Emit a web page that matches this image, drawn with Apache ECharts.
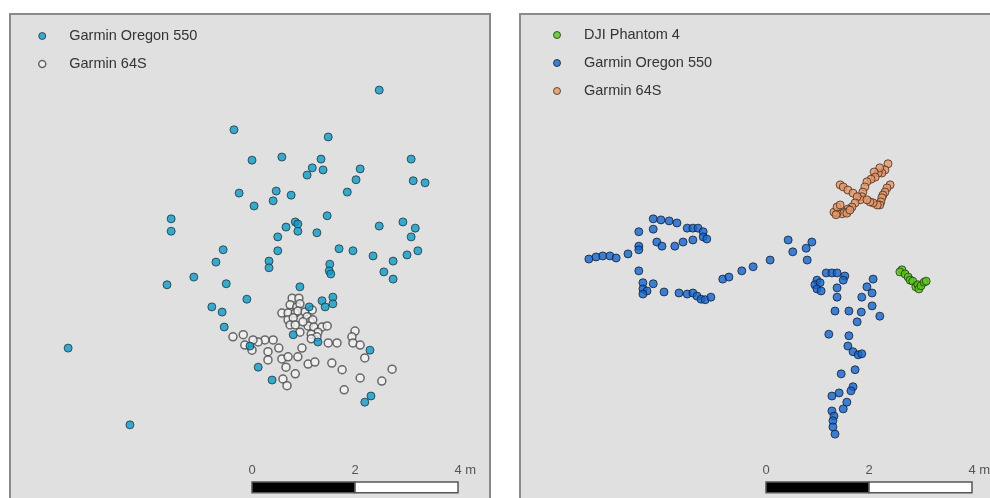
<!DOCTYPE html>
<html>
<head>
<meta charset="utf-8">
<script src="https://cdn.jsdelivr.net/npm/echarts@6/dist/echarts.min.js"></script>
<style>
html,body{margin:0;padding:0;background:#fff;overflow:hidden;width:990px;height:498px;}
#chart{width:1010px;height:512px;}
</style>
</head>
<body>
<div id="chart"></div>
<script>
// ---- Data (metres, local map coordinates) ----
const leftSeriesNames = ['Garmin Oregon 550', 'Garmin 64S'];
const rightSeriesNames = ['DJI Phantom 4', 'Garmin Oregon 550', 'Garmin 64S'];

const leftOregon = [[2.47,7.92],[-0.35,7.15],[1.48,7.01],[0,6.56],[0.58,6.62],[1.34,6.58],[1.17,6.41],[1.38,6.37],[1.07,6.27],[2.10,6.39],[3.09,6.58],[2.02,6.18],[3.13,6.16],[3.36,6.12],[1.85,5.94],[-0.25,5.92],[0.47,5.96],[0.76,5.88],[0.41,5.77],[0.04,5.67],[-1.57,5.42],[-1.57,5.18],[1.46,5.48],[0.84,5.36],[0.89,5.32],[0.66,5.26],[0.89,5.18],[1.26,5.15],[0.50,5.07],[2.47,5.28],[2.93,5.36],[3.17,5.24],[3.09,5.07],[-0.56,4.82],[0.50,4.80],[1.69,4.84],[1.96,4.80],[3.22,4.80],[2.35,4.70],[2.74,4.60],[3.01,4.72],[-0.70,4.58],[0.33,4.60],[0.33,4.47],[1.51,4.54],[1.50,4.41],[1.53,4.35],[2.56,4.39],[2.74,4.25],[-1.13,4.29],[-1.65,4.14],[-0.50,4.16],[0.93,4.10],[-0.10,3.86],[-0.78,3.71],[-0.58,3.61],[-0.54,3.32],[1.11,3.71],[1.36,3.83],[1.42,3.71],[1.57,3.90],[1.57,3.77],[0.80,3.17],[1.28,3.03],[-0.04,2.95],[2.29,2.87],[0.12,2.54],[0.39,2.29],[2.31,1.98],[2.19,1.86],[-3.57,2.91],[-2.37,1.42]];

const left64S = [[0.78,3.88],[0.91,3.88],[0.74,3.75],[0.87,3.71],[0.93,3.77],[0.58,3.59],[0.70,3.59],[0.84,3.59],[0.70,3.46],[0.80,3.50],[0.74,3.36],[0.89,3.63],[1.03,3.61],[1.17,3.65],[1.07,3.52],[1.13,3.42],[1.18,3.46],[1.09,3.34],[1.20,3.32],[1.36,3.32],[1.46,3.34],[1.28,3.22],[1.15,3.18],[1.26,3.13],[1.15,3.09],[0.84,3.36],[0.93,3.22],[2.00,3.24],[1.94,3.13],[1.96,3.01],[2.10,2.97],[1.65,3.01],[1.48,3.01],[2.19,2.72],[0.97,2.91],[0.89,2.74],[1.09,2.60],[1.22,2.64],[1.55,2.62],[1.75,2.49],[2.10,2.33],[1.79,2.10],[2.52,2.27],[2.72,2.50],[0.84,2.41],[0.60,2.31],[0.68,2.18],[0.58,2.70],[0.70,2.74],[0.66,2.54],[0.31,2.84],[0.31,2.68],[0.52,2.91],[0.41,3.07],[0.25,3.07],[0.12,3.03],[0.02,3.07],[-0.17,3.17],[-0.37,3.13],[-0.14,2.97],[0,2.87],[0.99,3.42]];

const rightDJI = [[2.64,4.43],[2.60,4.39],[2.70,4.35],[2.76,4.29],[2.80,4.23],[2.85,4.21],[2.91,4.10],[2.95,4.14],[2.97,4.06],[3.01,4.12],[3.07,4.19],[3.11,4.21]];

const rightOregon = [[-3.44,4.64],[-3.30,4.68],[-3.17,4.70],[-3.03,4.70],[-2.91,4.66],[-2.68,4.74],[-2.47,5.17],[-2.47,4.89],[-2.47,4.82],[-2.19,5.42],[-2.04,5.40],[-1.88,5.38],[-1.73,5.34],[-1.53,5.24],[-1.42,5.24],[-1.32,5.24],[-1.22,5.17],[-1.22,5.07],[-1.15,5.03],[-2.19,5.22],[-2.12,4.97],[-2.02,4.89],[-1.77,4.89],[-1.61,4.97],[-1.42,5.01],[-2.47,4.41],[-2.39,4.18],[-2.19,4.16],[-2.39,4.06],[-2.31,4.02],[-2.39,3.96],[-1.98,4.00],[-1.69,3.98],[-1.53,3.96],[-1.42,3.98],[-1.34,3.92],[-1.26,3.86],[-1.18,3.85],[-1.07,3.90],[-0.84,4.25],[-0.72,4.29],[-0.47,4.41],[-0.25,4.49],[0.08,4.62],[0.43,5.01],[0.52,4.78],[0.89,4.97],[0.78,4.85],[0.80,4.62],[0.99,4.23],[0.95,4.14],[1.05,4.18],[0.99,4.06],[1.07,4.02],[1.17,4.37],[1.28,4.37],[1.38,4.37],[1.53,4.31],[1.50,4.23],[1.38,4.08],[1.38,3.90],[1.34,3.63],[1.61,3.63],[1.85,3.61],[1.77,3.42],[2.08,4.25],[1.96,4.10],[2.06,3.98],[1.86,3.90],[2.06,3.73],[2.21,3.53],[1.22,3.18],[1.61,3.15],[1.59,2.95],[1.69,2.84],[1.79,2.78],[1.86,2.80],[1.46,2.41],[1.73,2.49],[1.69,2.16],[1.65,2.08],[1.28,1.98],[1.42,2.04],[1.57,1.86],[1.50,1.73],[1.28,1.69],[1.32,1.59],[1.30,1.50],[1.30,1.38],[1.34,1.24]];

const right64S = [[2.37,6.49],[2.31,6.37],[2.25,6.31],[2.18,6.31],[2.21,6.41],[2.10,6.33],[2.12,6.23],[2.04,6.19],[1.96,6.14],[1.92,6.04],[1.88,5.94],[1.86,5.85],[1.83,5.79],[2.41,6.08],[2.35,6.02],[2.31,5.94],[2.27,5.88],[2.25,5.83],[2.23,5.75],[2.21,5.69],[2.16,5.69],[2.08,5.73],[2.02,5.75],[1.96,5.79],[1.44,6.08],[1.50,6.04],[1.59,5.98],[1.69,5.92],[1.77,5.85],[1.73,5.73],[1.67,5.65],[1.59,5.61],[1.53,5.55],[1.48,5.52],[1.38,5.53],[1.32,5.55],[1.38,5.65],[1.44,5.69],[1.57,5.53],[1.63,5.59],[1.36,5.50]];

// scale bar (metres)
const scaleSegments = [[0, 2], [2, 4]];
const scaleTicks = [0, 2, 4];
const scaleUnit = 'm';

// ---- Styles / layout ----
const FONT = "'Liberation Sans', Arial, sans-serif";
const BAR_TOP = 0.31, BAR_BOTTOM = 0.10, LABEL_Y = 0.53;
const Y_MIN = -0.117, Y_MAX = 9.398;

const styleOregonL = {color:'#0f9bc6', borderColor:'#1b3440', borderWidth:1};
const style64SL = {color:'#f2f2f2', borderColor:'#474747', borderWidth:1.5};
const styleDJI = {color:'#57c41c', borderColor:'#1d3a0c', borderWidth:1};
const styleOregonR = {color:'#1765c9', borderColor:'#0d1f3c', borderWidth:1};
const style64SR = {color:'#e2976c', borderColor:'#4a2a18', borderWidth:1};

function scatter(name, data, idx, style) {
  return {type:'scatter', name, data, xAxisIndex:idx, yAxisIndex:idx,
    symbol:'circle', symbolSize:8, itemStyle:style, silent:true};
}
function scaleBarSeries(idx) {
  return {
    type:'custom', xAxisIndex:idx, yAxisIndex:idx, silent:true, z:5,
    data: scaleSegments, encode:{x:[0,1]},
    renderItem: function(params, api) {
      const p0 = api.coord([api.value(0), BAR_TOP]);
      const p1 = api.coord([api.value(1), BAR_BOTTOM]);
      return {type:'rect', shape:{x:p0[0], y:p0[1], width:p1[0]-p0[0], height:p1[1]-p0[1]},
        style:{fill: params.dataIndex === 0 ? '#000' : '#fff', stroke:'#555', lineWidth:1.5}};
    }
  };
}
function scaleLabelSeries(idx) {
  return {
    type:'custom', xAxisIndex:idx, yAxisIndex:idx, silent:true, z:5,
    data: scaleTicks.map(v => [v]), encode:{x:0},
    renderItem: function(params, api) {
      const v = api.value(0);
      const p = api.coord([v, LABEL_Y]);
      const last = params.dataIndex === scaleTicks.length - 1;
      return {type:'text', x: last ? p[0] - 3.6 : p[0], y: p[1],
        style:{text: last ? v + ' ' + scaleUnit : String(v), align: last ? 'left' : 'center',
          verticalAlign:'middle', fill:'#555', fontSize:13, fontFamily:FONT}};
    }
  };
}
const legendBase = {orient:'vertical', itemWidth:44, itemHeight:7, itemGap:12, padding:0,
  icon:'circle', selectedMode:false, textStyle:{fontSize:14.5, lineHeight:16, color:'#333', fontFamily:FONT}};

const chart = echarts.init(document.getElementById('chart'), null, {renderer:'canvas'});
chart.setOption({
  animation:false,
  backgroundColor:'#ffffff',
  grid:[
    {left:10, top:14, width:480, height:490, show:true, backgroundColor:'#e0e0e0', borderColor:'#8a8a8a', borderWidth:2, containLabel:false},
    {left:520, top:14, width:480, height:490, show:true, backgroundColor:'#e0e0e0', borderColor:'#8a8a8a', borderWidth:2, containLabel:false}
  ],
  xAxis:[
    {type:'value', gridIndex:0, min:-4.699, max:4.621, show:false},
    {type:'value', gridIndex:1, min:-4.777, max:4.544, show:false}
  ],
  yAxis:[
    {type:'value', gridIndex:0, min:Y_MIN, max:Y_MAX, show:false},
    {type:'value', gridIndex:1, min:Y_MIN, max:Y_MAX, show:false}
  ],
  legend:[
    Object.assign({}, legendBase, {left:38, top:28,
      data:[{name:leftSeriesNames[0], itemStyle:styleOregonL}, {name:leftSeriesNames[1], itemStyle:style64SL}]}),
    Object.assign({}, legendBase, {left:553, top:27,
      data:[{name:rightSeriesNames[0], itemStyle:styleDJI}, {name:rightSeriesNames[1], itemStyle:styleOregonR}, {name:rightSeriesNames[2], itemStyle:style64SR}]})
  ],
  series:[
    scatter(leftSeriesNames[1], left64S, 0, style64SL),
    scatter(leftSeriesNames[0], leftOregon, 0, styleOregonL),
    scatter(rightSeriesNames[0], rightDJI, 1, styleDJI),
    scatter(rightSeriesNames[1], rightOregon, 1, styleOregonR),
    scatter(rightSeriesNames[2], right64S, 1, style64SR),
    scaleBarSeries(0), scaleLabelSeries(0),
    scaleBarSeries(1), scaleLabelSeries(1)
  ]
});
</script>
</body>
</html>
